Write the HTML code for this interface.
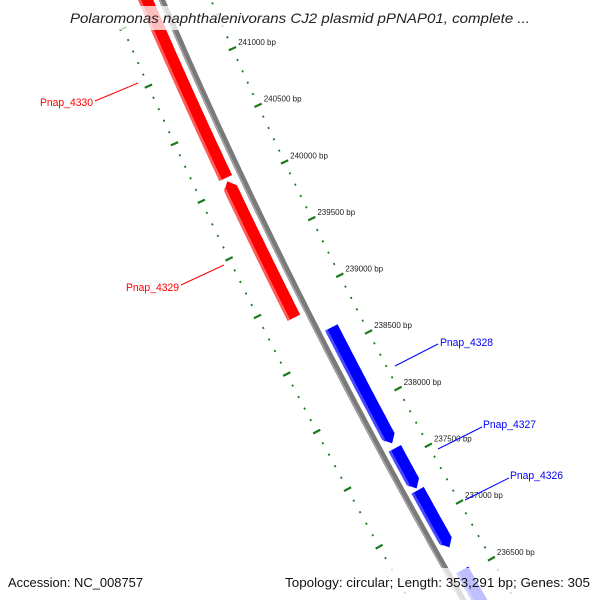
<!DOCTYPE html>
<html><head><meta charset="utf-8"><style>
html,body{margin:0;padding:0;background:#fff;width:600px;height:600px;overflow:hidden;}
svg{display:block;font-family:"Liberation Sans","DejaVu Sans",sans-serif;}
</style></head><body>
<svg id="map" width="600" height="600" viewBox="0 0 600 600" xmlns="http://www.w3.org/2000/svg">
<g id="rings"></g>
<g id="genes"></g>
<g id="labels"></g>
<rect x="0" y="6" width="600" height="24" fill="#fff" opacity="0.75"/>
<rect x="0" y="568" width="600" height="32" fill="#fff" opacity="0.75"/>
<text x="300" y="23" text-anchor="middle" font-size="14" font-style="italic" fill="#222" textLength="460" lengthAdjust="spacingAndGlyphs">Polaromonas naphthalenivorans CJ2 plasmid pPNAP01, complete ...</text>
<text x="8" y="587" font-size="13" fill="#111" textLength="135" lengthAdjust="spacingAndGlyphs">Accession: NC_008757</text>
<text x="590" y="587" font-size="13" fill="#111" text-anchor="end" textLength="305" lengthAdjust="spacingAndGlyphs">Topology: circular; Length: 353,291 bp; Genes: 305</text>
</svg>
<script>
const tickValues = [241500, 241000, 240500, 240000, 239500, 239000, 238500, 238000, 237500, 237000, 236500, 236000];
const tickLabels = ["", "241000 bp", "240500 bp", "240000 bp", "239500 bp", "239000 bp", "238500 bp", "238000 bp", "237500 bp", "237000 bp", "236500 bp", ""];
const geneNames = ["Pnap_4330", "Pnap_4329", "Pnap_4328", "Pnap_4327", "Pnap_4326", "Pnap_4325"];
const geneStarts = [240084, 238864, 238664, 237603, 237235, 236535];
const geneEnds = [242100, 240055, 237647, 237251, 236734, 235900];
const geneStrands = [-1, -1, 1, 1, 1, 1];
const labelShown = [true, true, true, true, true, false];

const NS = "http://www.w3.org/2000/svg";
function gx(y){ return 162 + 0.43*y + 0.00012*y*y; }
function gd(y){ return 0.43 + 0.00024*y; }
function bpToY(bp){ return 67 + (241000 - bp) / 4500 * 514; }
function pt(bp, r){
  const y = bpToY(bp), d = gd(y), n = Math.sqrt(1 + d*d);
  return [gx(y) + r/n, y - r*d/n];
}
function el(tag, attrs, parent){
  const e = document.createElementNS(NS, tag);
  for (const k in attrs) e.setAttribute(k, attrs[k]);
  parent.appendChild(e); return e;
}
function poly(pts){ return pts.map(p => p[0].toFixed(1) + "," + p[1].toFixed(1)).join(" "); }

const rings = document.getElementById("rings");
const genesG = document.getElementById("genes");
const labelsG = document.getElementById("labels");

(function(){
  const outer = [], inner = [], hl = [];
  for (let bp = 242200; bp >= 235800; bp -= 50){ outer.push(pt(bp, -3)); inner.push(pt(bp, 3)); hl.push(pt(bp, -2)); }
  const b = el("polygon", {points: poly(outer.concat(inner.reverse())), fill: "#7a7a7a"}, genesG);
  
  
  const h = el("polyline", {points: poly(hl), fill: "none", stroke: "#aaaaaa", "stroke-width": 1.2}, genesG);
  
  
})();

const ringRs = [45, -47];
ringRs.forEach((R, ri) => {
  for (let i = 0; i < tickValues.length; i++){
    const bp = tickValues[i];
    const a = pt(bp, R - 4), b = pt(bp, R + 4);
    const t = el("line", {x1: a[0], y1: a[1], x2: b[0], y2: b[1], stroke: "#1a7a1a", "stroke-width": 2.2}, rings);
    
    
    if (i < tickValues.length - 1){
      for (let m = 1; m < 5; m++){
        const mb = bp + (tickValues[i+1] - bp) * m / 5;
        const c = pt(mb, R - 0.9), d = pt(mb, R + 0.9);
        const mt = el("line", {x1: c[0], y1: c[1], x2: d[0], y2: d[1], stroke: "#1a7a1a", "stroke-width": 2}, rings);
        
        
      }
    }
    if (ri === 0 && tickLabels[i]){
      const p = pt(bp, R + 4);
      const tx = el("text", {x: p[0] + 2, y: p[1] - 2, "font-size": 8, fill: "#222"}, rings);
      tx.textContent = tickLabels[i];
      
      
    }
  }
});

const labelPos = [[40,102,95,101,138,83],[126,287,181,285,224,265],[440,342,438,344,395,366],[483,424,482,427,438,449],[510,475,509,478,465,500]];
for (let g = 0; g < geneNames.length; g++){
  const s = geneStrands[g];
  const r0 = s < 0 ? -22 : 7, r1 = s < 0 ? -8 : 21, rm = (r0 + r1)/2;
  const main = s < 0 ? "#ff0000" : "#0000ff", light = s < 0 ? "#ff5c5c" : "#4a4aff";
  const hi = Math.max(geneStarts[g], geneEnds[g]), lo = Math.min(geneStarts[g], geneEnds[g]);
  const head = 60;
  let L = [], Rr = [], LL = [];
  let a0 = lo, a1 = hi;
  if (s > 0) a0 = lo + head; else a1 = hi - head;
  for (let bp = a1; bp >= a0; bp -= 20){ L.push(pt(bp, r0)); Rr.push(pt(bp, r1)); LL.push(pt(bp, r0 + 2.8)); }
  L.push(pt(a0, r0)); Rr.push(pt(a0, r1)); LL.push(pt(a0, r0 + 2.8));
  let pts, lpts;
  if (s > 0){
    const tip = pt(lo, rm);
    pts = L.concat([tip], Rr.slice().reverse());
    lpts = L.concat([pt(lo + head*0.6, r0 + 1.5)], LL.slice().reverse());
  } else {
    const tip = pt(hi, rm);
    pts = [tip].concat(Rr, L.slice().reverse());
    lpts = [pt(hi - head*0.6, r0 + 1.5)].concat(LL, L.slice().reverse());
  }
  const gp = el("polygon", {points: poly(pts), fill: main}, genesG);
  
  
  const lp = el("polygon", {points: poly(lpts), fill: light}, genesG);
  
  
  if (labelShown[g]){
    const q = labelPos[g];
    const ln = el("line", {x1: q[2], y1: q[3], x2: q[4], y2: q[5], stroke: main, "stroke-width": 1}, labelsG);
    
    
    const tx = el("text", {x: q[0], y: q[1] + 4, "font-size": 11, fill: main, textLength: 53, lengthAdjust: "spacingAndGlyphs"}, labelsG);
    tx.textContent = geneNames[g];
    
    
  }
}
</script>
</body></html>
